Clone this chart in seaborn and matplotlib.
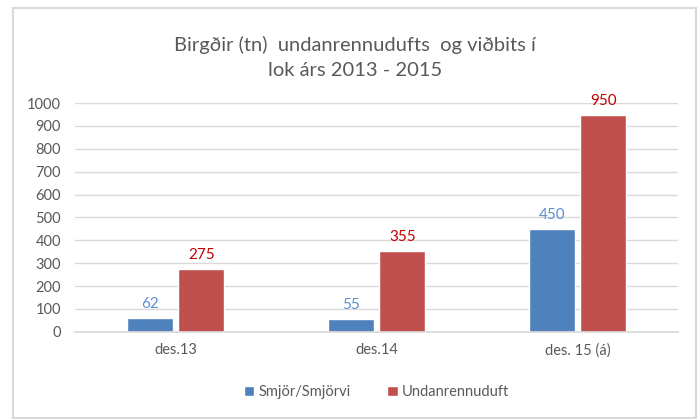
import pandas as pd
import seaborn as sns
import matplotlib.pyplot as plt
from matplotlib.patches import Rectangle

# Data
categories = ['des.13', 'des.14', 'des. 15 (á)']
smjor = [62, 55, 450]
undanrennuduft = [275, 355, 950]
series_names = ['Smjör/Smjörvi', 'Undanrennuduft']

df = pd.DataFrame({
    'cat': categories * 2,
    'tn': smjor + undanrennuduft,
    'vara': [series_names[0]] * 3 + [series_names[1]] * 3,
})

sns.set_theme(style='white')
plt.rcParams['font.family'] = ['Lato', 'DejaVu Sans']

bar_colors = ['#4F81BD', '#C0504D']
label_colors = ['#5B8FCF', '#C00000']
gray = '#595959'

fig = plt.figure(figsize=(7, 4.19), dpi=100)
ax = fig.add_axes([0.107, 0.208, 0.862, 0.546])

sns.barplot(data=df, x='cat', y='tn', hue='vara', palette=bar_colors,
            saturation=1, width=0.51, gap=0.1, ax=ax, legend=True)

# value labels
for cont, col in zip(ax.containers, label_colors):
    ax.bar_label(cont, padding=5, color=col, fontsize=11)

ax.set_ylim(0, 1000)
ax.set_yticks(range(0, 1001, 100))
ax.yaxis.grid(True, color='#D9D9D9', linewidth=1)
ax.set_axisbelow(True)
for s in ['top', 'right', 'left']:
    ax.spines[s].set_visible(False)
ax.spines['bottom'].set_color('#D9D9D9')
ax.tick_params(axis='both', length=0, colors=gray, labelsize=10.5)
ax.tick_params(axis='x', pad=8)
ax.tick_params(axis='y', pad=10)
ax.set_xlabel('')
ax.set_ylabel('')

ax.legend(loc='center', bbox_to_anchor=(0.5, -0.265), ncol=2, frameon=False,
          fontsize=10.5, handlelength=0.7, handleheight=0.7, handletextpad=0.3,
          columnspacing=2.5, labelcolor=gray)

fig.text(0.507, 0.863, 'Birgðir (tn)  undanrennudufts  og viðbits í\nlok árs 2013 - 2015',
         ha='center', va='center', fontsize=14.5, color=gray, linespacing=1.55)

# chart frame
fig.patches.append(Rectangle((0.019, 0.003), 0.976, 0.978, transform=fig.transFigure,
                             fill=False, edgecolor='#D9D9D9', linewidth=1.5))

fig.savefig('out.png', dpi=100)
